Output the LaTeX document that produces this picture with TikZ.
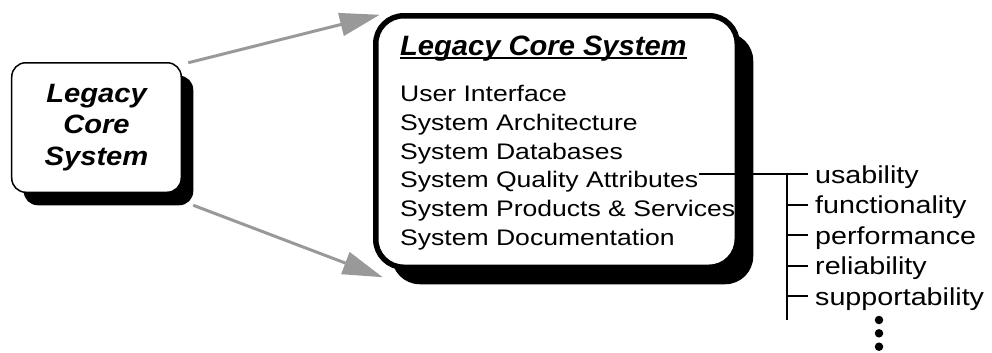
\documentclass[tikz,border=0pt]{standalone}
\usepackage{fontspec}
\setmainfont{Liberation Sans}
\newfontfamily\listfont[FakeStretch=1.18]{Liberation Sans}
\newfontfamily\attrfont[FakeStretch=1.17]{Liberation Sans}
\newfontfamily\titlefont[FakeStretch=1.04]{Liberation Sans}
\newfontfamily\boxfont[FakeStretch=1.1]{Liberation Sans}
\usetikzlibrary{arrows.meta,shadows,backgrounds}
\definecolor{arrowgray}{RGB}{153,153,153}
\tikzset{
  smallbox/.style={draw, line width=1.5bp, fill=white, rounded corners=14bp,
    inner sep=0pt, outer sep=0pt, minimum width=169.5bp, minimum height=129.5bp,
    align=center, font=\boxfont\bfseries\itshape\fontsize{26.5bp}{31.5bp}\selectfont,
    drop shadow={shadow xshift=12bp, shadow yshift=-13bp, fill=black, opacity=1}},
  bigbox/.style={draw, line width=5.5bp, fill=white, rounded corners=28bp,
    inner sep=0pt, outer sep=0pt, minimum width=361.5bp, minimum height=251.5bp,
    drop shadow={shadow xshift=16bp, shadow yshift=-17bp, fill=black, opacity=1}},
  boxtitle/.style={anchor=base west, inner sep=0pt,
    font=\titlefont\bfseries\itshape\fontsize{28bp}{32bp}\selectfont},
  item/.style={anchor=base west, inner sep=0pt,
    font=\listfont\fontsize{22.5bp}{28bp}\selectfont},
  attr/.style={anchor=base west, inner xsep=7bp, inner ysep=0pt,
    text height=18bp, text depth=0pt,
    font=\attrfont\fontsize{24.5bp}{30bp}\selectfont},
  link/.style={draw=arrowgray, line width=3bp,
    -{Triangle[length=40bp,width=23bp]}},
  tree/.style={line width=2bp},
  ellipsisdot/.style={circle, fill=black, inner sep=0pt, minimum size=8.5bp},
}
\begin{document}
\begin{tikzpicture}[x=1bp,y=-1bp]
\useasboundingbox (0,0) rectangle (992,352);

% the two boxes
\node[smallbox] (legacy) at (96.5,127.5) {Legacy\\Core\\System};
\node[bigbox] (core) at (556.5,141.5) {};

% contents of the large box
\node[boxtitle] (title) at (400,55) {Legacy Core System};
\draw[line width=2bp] ([yshift=-3bp]title.base west) -- ([yshift=-3bp]title.base east);
\node[item] (ui)   at (400,101.5)  {User Interface};
\node[item] (arch) at (400,130.25) {System Architecture};
\node[item] (db)   at (400,159)    {System Databases};
\node[item, inner xsep=1bp] (qa) at (399,187.75) {System Quality Attributes};
\node[item] (ps)   at (400,216.5)  {System Products \& Services};
\node[item] (doc)  at (400,245.25) {System Documentation};

% quality attributes
\node[attr] (usab) at (808,183)   {usability};
\node[attr] (func) at (808,213.5) {functionality};
\node[attr] (perf) at (808,244)   {performance};
\node[attr] (rel)  at (808,274.5) {reliability};
\node[attr] (supp) at (808,305)   {supportability};

\coordinate (trunktop) at (787,174);
\coordinate (trunkend) at (787,320);
\draw[tree] (usab.west -| qa.east) -- (usab.west);
\draw[tree] (trunktop) -- (trunkend);
\foreach \a in {func,perf,rel,supp}
  \draw[tree] (trunktop |- \a.west) -- (\a.west);

\node[ellipsisdot] (d1) at (879,320) {};
\node[ellipsisdot] (d2) at (879,333.3) {};
\node[ellipsisdot] (d3) at (879,346.7) {};

% arrows from the small box to the large one
\begin{scope}[on background layer]
\draw[link] ([xshift=7bp]legacy.north east) -- ([xshift=4bp,yshift=1bp]core.north west);
\draw[link] ([xshift=12bp,yshift=-13bp]legacy.south east) -- ([xshift=7bp,yshift=-10bp]core.south west);
\end{scope}
\end{tikzpicture}
\end{document}
